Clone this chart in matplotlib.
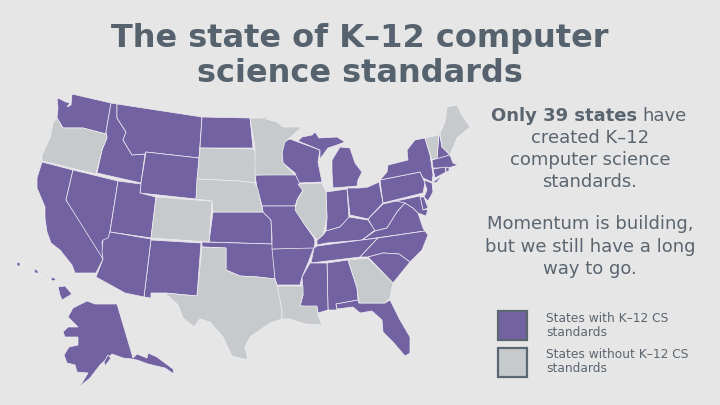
import matplotlib
matplotlib.use("Agg")
import matplotlib.pyplot as plt
from matplotlib.patches import Polygon, Rectangle

BG = "#E6E6E6"
PURPLE = "#7262A1"
GREY = "#C6CACC"
BORDER = "#EFECF4"
TITLE_COLOR = "#56636F"
TEXT_COLOR = "#5A6570"

# state outlines (pixels)
WA = [(57,98),(60,99),(66,102),(70,103),(67,107),(71,105),(72,94),(111,103),(106,132),(106,134),(83,128),(63,128),(57,118),(58,108)]
OR = [(57,118),(63,128),(83,128),(106,134),(107,138),(102,150),(96,174),(42,161),(42,155),(50,138),(53,123)]
CA = [(42,162),(73,170),(66,200),(95,242),(103,259),(96,273),(75,273),(72,265),(60,250),(51,243),(47,232),(45,218),(45,207),(37,188),(37,178)]
NV = [(73,170),(118,181),(110,231),(108,241),(102,241),(103,259),(66,200)]
ID = [(111,103),(117,104),(117,118),(126,132),(123,140),(132,155),(145,154),(141,183),(97,173),(102,150),(107,137),(106,132)]
MT = [(117,104),(202,117),(199,158),(146,152),(145,154),(132,155),(123,140),(126,132),(117,118)]
WY = [(146,152),(199,158),(196,199),(140,193),(141,183)]
UT = [(118,181),(141,184),(140,193),(156,197),(151,238),(110,232)]
CO = [(156,197),(196,200),(212,201),(209,242),(151,238)]
ND = [(202,117),(250,118),(253,148),(200,148)]
SD = [(200,148),(253,149),(255,151),(256,175),(255,183),(240,181),(197,179)]
NE = [(197,179),(240,181),(255,183),(258,190),(263,212),(213,212),(212,201),(196,199)]
KS = [(213,212),(263,212),(271,220),(272,244),(209,242)]
OK = [(202,242),(272,244),(273,250),(275,279),(258,277),(240,276),(226,270),(226,248),(202,247)]
TX = [(202,247),(226,248),(226,270),(240,276),(258,277),(275,279),(277,285),(282,310),(282,319),(270,323),(250,337),(245,347),(248,360),(232,356),(223,337),(210,322),(200,319),(194,327),(183,318),(178,305),(165,293),(197,296)]
NM = [(151,240),(201,243),(197,296),(165,293),(151,293),(151,298),(144,297)]
AZ = [(110,232),(151,239),(144,297),(125,293),(96,277),(103,259),(102,252),(103,240),(108,238)]
MN = [(250,118),(264,118),(265,114),(266,119),(277,122),(283,127),(302,127),(293,135),(285,142),(282,153),(283,163),(293,173),(295,175),(255,175),(255,148)]
WI = [(283,142),(290,139),(298,142),(320,150),(318,162),(322,182),(298,183),(295,173),(283,163),(282,153)]
MI_UP = [(298,141),(302,137),(312,135),(315,132),(319,138),(337,137),(345,142),(337,145),(328,148),(320,159),(320,150)]
MI_LP = [(340,147),(350,148),(355,163),(362,172),(358,180),(357,186),(333,188),(332,172),(332,160)]
IA = [(255,175),(295,174),(303,190),(298,198),(295,206),(262,206),(257,188)]
IL = [(298,184),(322,183),(326,192),(327,218),(323,235),(317,240),(307,228),(303,222),(295,210),(297,200),(303,191)]
IN = [(326,192),(347,189),(349,218),(340,227),(326,231),(327,218)]
OH = [(347,188),(359,188),(368,187),(379,182),(383,203),(368,219),(350,215)]
KY = [(349,217),(368,220),(375,230),(362,240),(327,243),(317,245),(317,240),(323,235),(326,231),(340,227)]
WV = [(383,204),(396,201),(400,200),(405,203),(397,212),(387,228),(375,231),(368,219)]
VA = [(375,231),(387,228),(397,212),(405,203),(413,208),(418,213),(423,228),(425,231),(362,240)]
PA = [(380,180),(420,172),(425,183),(423,193),(383,203)]
NY = [(388,165),(408,160),(407,150),(415,140),(425,138),(430,155),(433,175),(432,182),(423,178),(420,172),(380,180),(387,172)]
LI = [(433,182),(443,175),(436,183)]
VT = [(425,138),(439,135),(437,158),(432,160)]
NH = [(439,132),(442,147),(450,155),(437,159)]
ME = [(440,133),(445,122),(447,107),(457,105),(462,115),(470,127),(457,138),(450,155),(442,147)]
MA = [(432,160),(450,155),(453,163),(458,165),(448,168),(433,168)]
CT = [(433,169),(445,167),(446,172),(435,178)]
RI = [(446,167),(449,168),(449,171),(446,172)]
NJ = [(424,180),(432,183),(433,192),(428,201),(424,197),(427,190)]
DE = [(420,197),(424,197),(428,208),(423,210)]
MD = [(396,201),(420,196),(423,210),(428,209),(426,216),(418,213),(413,208),(405,203)]
TN = [(317,246),(362,240),(378,238),(360,257),(311,263),(314,248)]
NC = [(378,238),(425,231),(428,235),(422,250),(410,262),(399,254),(383,253),(368,257),(360,257)]
SC = [(368,257),(383,253),(399,254),(410,262),(393,283)]
GA = [(348,260),(368,258),(393,283),(390,298),(385,303),(359,303),(357,288)]
AL = [(327,263),(348,260),(357,288),(358,300),(336,304),(337,310),(328,310)]
MS = [(310,263),(327,263),(328,310),(318,313),(317,307),(300,306),(303,295),(302,277)]
AR = [(272,249),(314,247),(308,263),(302,277),(300,285),(277,285),(275,279)]
LA = [(277,286),(303,286),(303,295),(300,306),(317,306),(318,315),(322,325),(305,324),(290,319),(282,319),(282,310)]
FL = [(336,304),(358,300),(359,303),(385,303),(390,300),(400,320),(410,337),(410,353),(405,356),(393,342),(383,332),(382,320),(372,311),(360,313),(353,307),(337,309)]
MO = [(262,206),(295,206),(303,222),(314,238),(315,242),(314,248),(272,249),(272,237),(271,220),(263,212)]
AK = [(87,301),(95,304),(117,304),(133,358),(137,354),(147,358),(148,353),(157,357),(173,369),(174,374),(165,368),(148,364),(137,360),(132,359),(123,358),(112,354),(100,365),(90,378),(73,392),(82,383),(88,373),(77,372),(75,365),(67,363),(64,355),(69,347),(78,345),(78,337),(65,337),(63,332),(68,327),(78,327),(68,317),(73,308)]
AK_ISLAND = [(108,355),(111,358),(105,366),(104,362)]
HI_BIG = [(58,287),(65,286),(72,294),(62,300),(60,295)]
HI_MAUI = [(52,277),(56,279),(54,281),(51,280)]
HI_MOLOKAI = [(45,275),(48,276),(47,277)]
HI_OAHU = [(34,269),(37,270),(39,273),(35,273)]
HI_KAUAI = [(17,262),(20,263),(20,266),(17,266)]

with_standards = [WA, CA, NV, ID, MT, WY, UT, ND, KS, OK, NM, AZ, WI, MI_UP, MI_LP, IA, IN, OH, KY, WV, VA, PA, NY, LI,
                  NH, MA, CT, RI, NJ, DE, MD, TN, NC, SC, AL, MS, AR, FL, MO, AK, AK_ISLAND,
                  HI_BIG, HI_MAUI, HI_MOLOKAI, HI_OAHU, HI_KAUAI]
without_standards = [OR, CO, SD, NE, TX, MN, IL, VT, ME, GA, LA]

title_lines = ["The state of K–12 computer", "science standards"]
body_lines = ["created K–12", "computer science", "standards.", "Momentum is building,", "but we still have a long", "way to go."]
legend_labels = ["States with K–12 CS\nstandards", "States without K–12 CS\nstandards"]

fig = plt.figure(figsize=(7.2, 4.05), dpi=100, facecolor=BG)
ax = fig.add_axes([0, 0, 1, 1])
ax.set_xlim(0, 720)
ax.set_ylim(405, 0)
ax.axis("off")

for shape in with_standards:
    ax.add_patch(Polygon(shape, closed=True, facecolor=PURPLE, edgecolor=BORDER, lw=0.5))
for shape in without_standards:
    ax.add_patch(Polygon(shape, closed=True, facecolor=GREY, edgecolor=BORDER, lw=0.5))

# title
ax.text(360, 38, title_lines[0], ha="center", va="center", fontsize=23, fontweight="bold", color=TITLE_COLOR)
ax.text(360, 73, title_lines[1], ha="center", va="center", fontsize=23, fontweight="bold", color=TITLE_COLOR)

# side text
ax.text(637, 116, "Only 39 states", ha="right", va="center", fontsize=13, fontweight="bold", color=TEXT_COLOR)
ax.text(642, 116, "have", ha="left", va="center", fontsize=13, color=TEXT_COLOR)
body_y = [138, 160, 182, 224, 247, 269]
for line, y in zip(body_lines, body_y):
    ax.text(590, y, line, ha="center", va="center", fontsize=13, color=TEXT_COLOR)

# legend
ax.add_patch(Rectangle((498, 311), 29, 29, facecolor=PURPLE, edgecolor="#5C6670", lw=1.6))
ax.add_patch(Rectangle((498, 348), 29, 29, facecolor=GREY, edgecolor="#5C6670", lw=1.6))
ax.text(546, 325, legend_labels[0], ha="left", va="center", fontsize=8.8, color=TEXT_COLOR, linespacing=1.1)
ax.text(546, 362, legend_labels[1], ha="left", va="center", fontsize=8.8, color=TEXT_COLOR, linespacing=1.1)

fig.savefig("out.png", dpi=100, facecolor=BG)
